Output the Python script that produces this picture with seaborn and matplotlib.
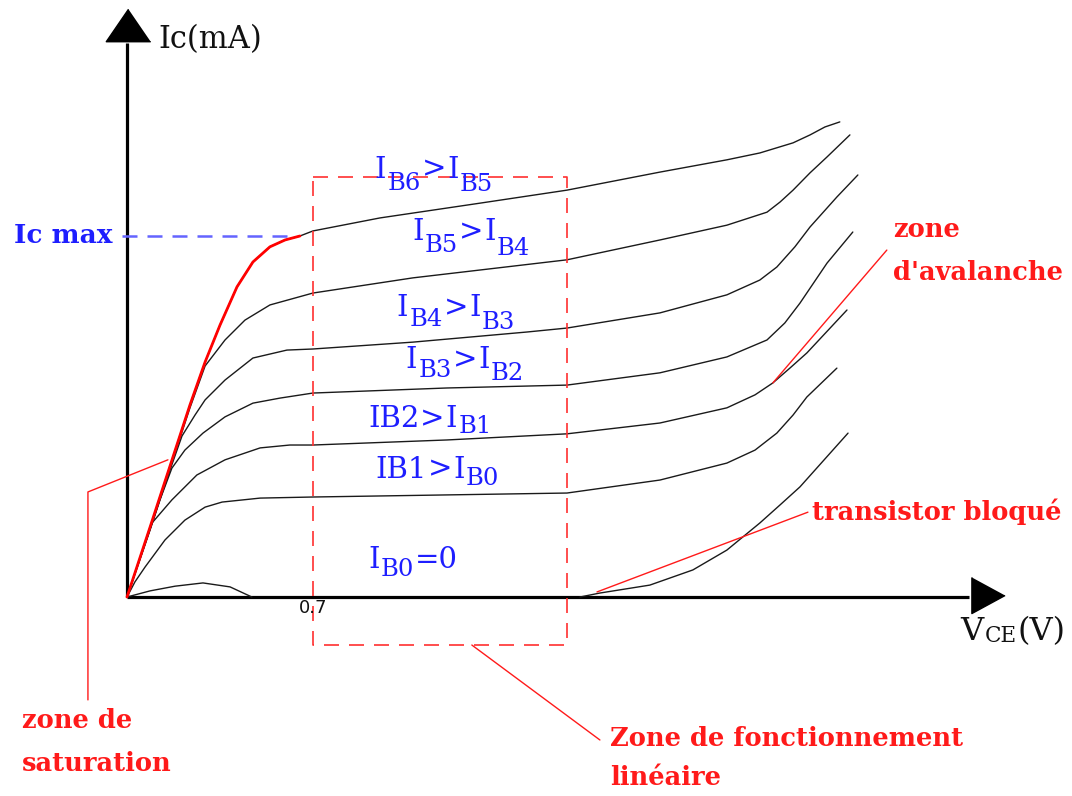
import numpy as np
import pandas as pd
import matplotlib
matplotlib.use('Agg')
import matplotlib.pyplot as plt
import matplotlib.transforms as mtransforms
import seaborn as sns

# Ic = f(VCE) curves (VCE in V, Ic in mA)
vce_b6 = [0, 0.087, 0.162, 0.237, 0.294, 0.350, 0.414, 0.474, 0.538, 0.595, 0.651, 0.70,
          0.952, 1.329, 1.656, 2.006, 2.258, 2.382, 2.507, 2.571, 2.627, 2.683]
ic_b6 = [0, 1.94, 3.63, 5.32, 6.51, 7.53, 8.59, 9.28, 9.70, 9.89, 10.0, 10.14,
         10.50, 10.91, 11.27, 11.77, 12.11, 12.30, 12.58, 12.80, 13.02, 13.16]

vce_b5 = [0, 0.087, 0.162, 0.237, 0.294, 0.369, 0.444, 0.538, 0.70, 1.076, 1.656, 2.006,
          2.258, 2.409, 2.458, 2.507, 2.571, 2.635, 2.721]
ic_b5 = [0, 1.91, 3.57, 5.24, 6.40, 7.12, 7.67, 8.09, 8.42, 8.84, 9.34, 9.89,
         10.30, 10.66, 10.94, 11.27, 11.75, 12.19, 12.80]

vce_b4 = [0, 0.087, 0.162, 0.207, 0.256, 0.294, 0.369, 0.474, 0.602, 0.70, 1.076, 1.505,
          1.656, 2.006, 2.258, 2.382, 2.446, 2.514, 2.571, 2.672, 2.751]
ic_b4 = [0, 1.88, 3.52, 4.46, 5.04, 5.46, 6.01, 6.62, 6.84, 6.87, 7.06, 7.34,
         7.45, 7.87, 8.37, 8.78, 9.14, 9.70, 10.25, 11.08, 11.69]

vce_b3 = [0, 0.087, 0.124, 0.169, 0.218, 0.286, 0.369, 0.474, 0.576, 0.70, 1.204, 1.656,
          2.006, 2.258, 2.409, 2.476, 2.533, 2.635, 2.732]
ic_b3 = [0, 1.86, 2.69, 3.57, 4.07, 4.54, 4.99, 5.37, 5.51, 5.65, 5.79, 5.87,
         6.21, 6.65, 7.12, 7.59, 8.14, 9.25, 10.11]

vce_b2 = [0, 0.049, 0.094, 0.169, 0.263, 0.369, 0.501, 0.613, 0.70, 1.204, 1.656, 2.006,
          2.258, 2.364, 2.431, 2.495, 2.559, 2.710]
ic_b2 = [0, 1.08, 2.05, 2.69, 3.38, 3.80, 4.13, 4.21, 4.21, 4.35, 4.52, 4.82,
         5.24, 5.60, 5.93, 6.34, 6.76, 7.95]

vce_b1 = [0, 0.030, 0.068, 0.143, 0.218, 0.294, 0.358, 0.501, 0.70, 1.656, 2.006, 2.258,
          2.364, 2.446, 2.507, 2.559, 2.672]
ic_b1 = [0, 0.42, 0.83, 1.58, 2.13, 2.49, 2.63, 2.74, 2.77, 2.88, 3.24, 3.71,
         4.07, 4.54, 5.04, 5.54, 6.34]

vce_b0 = [1.705, 1.780, 1.968, 2.130, 2.258, 2.382, 2.458, 2.533, 2.714]
ic_b0 = [0, 0.11, 0.33, 0.75, 1.30, 2.05, 2.55, 3.05, 4.54]

vce_bump = [0, 0.087, 0.181, 0.286, 0.388, 0.47]
ic_bump = [0, 0.17, 0.30, 0.39, 0.28, 0]

# saturation edge (red) follows the top curve up to Ic max
vce_sat = vce_b6[:11]
ic_sat = ic_b6[:11]

ic_max = 10.0
vce_knee = 0.7

# linear zone box (dashed)
box_vce = [0.70, 1.656]
box_ic = [-1.33, 11.63]

curves = {'IB6': (vce_b6, ic_b6), 'IB5': (vce_b5, ic_b5), 'IB4': (vce_b4, ic_b4),
          'IB3': (vce_b3, ic_b3), 'IB2': (vce_b2, ic_b2), 'IB1': (vce_b1, ic_b1),
          'IB0': (vce_b0, ic_b0), 'bump': (vce_bump, ic_bump)}
df = pd.concat([pd.DataFrame({'VCE': v, 'Ic': i, 'curve': k}) for k, (v, i) in curves.items()])

sns.set_theme(style='white')
plt.rcParams['mathtext.fontset'] = 'dejavuserif'

fig = plt.figure(figsize=(10.72, 7.96), dpi=100)
ax = fig.add_axes([0, 0, 1, 1])
ax.set_xlim(-0.478, 3.557)
ax.set_ylim(-5.512, 16.537)
ax.set_axis_off()

BLUE = '#1e1eff'
RED = '#ff1a1a'
SERIF = 'DejaVu Serif'


def rich_text(x, y, parts, color, gap=1.0, weight='normal'):
    """Pieces of text (string, size, drop in px) laid side by side, centred on x, baseline y."""
    renderer = fig.canvas.get_renderer()
    items = []
    for s, size, drop in parts:
        t = ax.text(x, y, s, fontsize=size, color=color, family=SERIF,
                    fontweight=weight, ha='left', va='baseline')
        items.append((t, drop, t.get_window_extent(renderer).width))
    total = sum(w for _, _, w in items) + gap * (len(items) - 1)
    off = -total / 2
    for t, drop, w in items:
        t.set_transform(mtransforms.offset_copy(ax.transData, fig=fig, x=off, y=-drop, units='dots'))
        off += w + gap


# axes with arrows
ax.plot([0, 0], [0, 15.35], color='black', lw=2.3, solid_capstyle='butt')
ax.plot([0, 3.17], [0, 0], color='black', lw=2.3, solid_capstyle='butt')
ax.plot(0.004, 15.85, marker=[(0, 0.73), (-1, -0.73), (1, -0.73)], ms=32, color='black')
ax.plot(3.24, 0.05, marker=[(0.92, 0), (-0.92, -1), (-0.92, 1)], ms=26, color='black')

# characteristic curves
sns.lineplot(data=df, x='VCE', y='Ic', units='curve', estimator=None, sort=False,
             color='#1a1a1a', lw=1.0, ax=ax)
sns.lineplot(x=vce_sat, y=ic_sat, sort=False, color='red', lw=2.0, ax=ax)

# Ic max dashed
ax.plot([-0.02, 0.64], [ic_max, ic_max], color='#6464ff', lw=1.8, dashes=(6, 4))
ax.text(-0.056, ic_max, 'Ic max', color=BLUE, fontsize=19, fontweight='bold',
        family=SERIF, ha='right', va='center')

# linear zone box
ax.plot([box_vce[0], box_vce[1], box_vce[1], box_vce[0], box_vce[0]],
        [box_ic[1], box_ic[1], box_ic[0], box_ic[0], box_ic[1]],
        color='#ff3030', lw=1.2, dashes=(9, 6))

# axis labels
ax.text(0.117, 15.43, 'Ic(mA)', fontsize=22, family=SERIF, ha='left', va='center', color='#111')
rich_text(3.335, -1.18, [('V', 23, 0), ('CE', 15.5, 2), ('(V)', 23, 0)], '#111', gap=1)
ax.text(vce_knee, -0.3, '0.7', fontsize=13, family='DejaVu Sans', ha='center', va='center', color='#111')

# base current labels (main 21 pt, subscripts 17.5 pt)
M, S = 21, 17.5
rich_text(1.155, 11.61, [('I', M, 0), ('B6', S, 12), ('>', M, 0), ('I', M, 0), ('B5', S, 13)], BLUE)
rich_text(1.295, 9.89, [('I', M, 0), ('B5', S, 12), ('>', M, 0), ('I', M, 0), ('B4', S, 15)], BLUE)
rich_text(1.238, 7.78, [('I', M, 0), ('B4', S, 10), ('>', M, 0), ('I', M, 0), ('B3', S, 13)], BLUE)
rich_text(1.272, 6.34, [('I', M, 0), ('B3', S, 9), ('>', M, 0), ('I', M, 0), ('B2', S, 12)], BLUE)
rich_text(1.140, 4.71, [('IB2', M, 0), ('>', M, 0), ('I', M, 0), ('B1', S, 6)], BLUE)
rich_text(1.167, 3.30, [('IB1', M, 0), ('>', M, 0), ('I', M, 0), ('B0', S, 7)], BLUE)
rich_text(1.076, 0.80, [('I', M, 0), ('B0', S, 8), ('=0', M, 0)], BLUE)

# zone annotations
red = dict(color=RED, fontsize=18.5, fontweight='bold', family=SERIF, ha='left', va='center')
ax.plot([0.154, -0.147, -0.147], [3.80, 2.91, -2.85], color=RED, lw=1.0)
ax.text(-0.395, -3.41, 'zone de', **red)
ax.text(-0.395, -4.60, 'saturation', **red)

ax.plot([1.298, 1.78], [-1.33, -3.96], color=RED, lw=1.0)
ax.text(1.818, -3.91, 'Zone de fonctionnement', **red)
ax.text(1.818, -5.01, 'linéaire', **red)

ax.plot([2.86, 2.431], [9.61, 5.93], color=RED, lw=1.0)
ax.text(2.883, 10.17, 'zone', **red)
ax.text(2.883, 9.00, "d'avalanche", **red)

ax.plot([2.563, 1.769], [2.35, 0.14], color=RED, lw=1.0)
ax.text(2.578, 2.35, 'transistor bloqué', **red)

fig.savefig('out.png', dpi=100, facecolor='white')
